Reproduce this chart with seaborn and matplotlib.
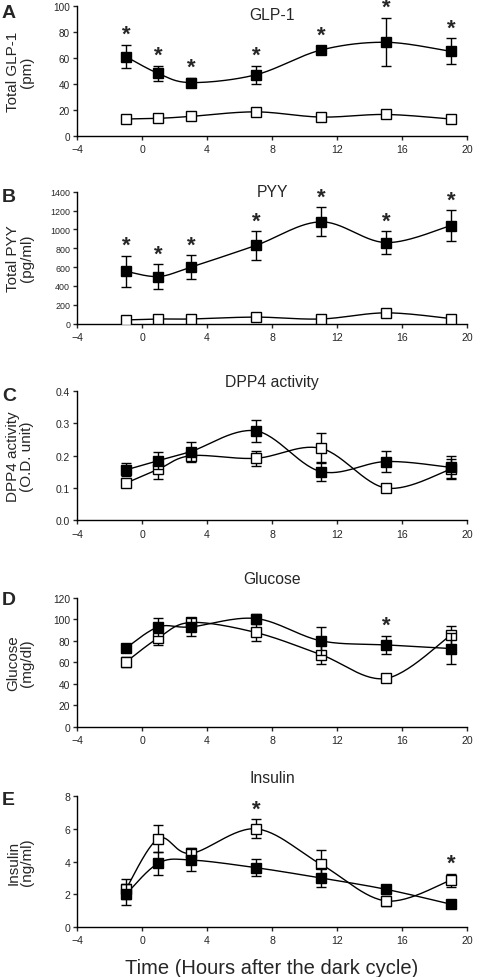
import numpy as np
import seaborn as sns
import matplotlib.pyplot as plt

# sampling times (hours after the start of the dark cycle)
hours = [-1, 1, 3, 7, 11, 15, 19]

# filled squares / open squares, mean and SEM
glp1_filled = [61, 48, 41, 47, 66, 72, 65]
glp1_filled_err = [9, 6, 3.5, 7, 3, 18.5, 10]
glp1_open = [13, 13.5, 15, 18.5, 14.5, 16.5, 13]
glp1_open_err = [1, 1, 1, 1, 1, 3, 1]
glp1_stars = [True, True, True, True, True, True, True]

pyy_filled = [555, 500, 600, 830, 1080, 860, 1040]
pyy_filled_err = [165, 130, 125, 150, 155, 120, 162]
pyy_open = [40, 50, 50, 70, 50, 115, 55]
pyy_open_err = [10, 10, 10, 10, 10, 15, 10]
pyy_stars = [True, True, True, True, True, True, True]

dpp4_filled = [0.156, 0.185, 0.213, 0.277, 0.151, 0.182, 0.164]
dpp4_filled_err = [0.02, 0.025, 0.031, 0.034, 0.03, 0.032, 0.034]
dpp4_open = [0.115, 0.158, 0.2, 0.192, 0.223, 0.1, 0.158]
dpp4_open_err = [0.01, 0.031, 0.01, 0.024, 0.046, 0.008, 0.031]
dpp4_stars = [False] * 7

glucose_filled = [73, 92.7, 92.7, 100.5, 79.8, 76, 72.6]
glucose_filled_err = [3, 8, 8, 4, 13, 8.5, 14]
glucose_open = [60, 82.5, 96.8, 87.5, 67, 44.8, 85]
glucose_open_err = [5, 7, 3, 8, 9, 2, 9]
glucose_stars = [False, False, False, False, False, True, False]

insulin_filled = [2.0, 3.9, 4.1, 3.63, 3.0, 2.31, 1.4]
insulin_filled_err = [0.65, 0.7, 0.65, 0.5, 0.58, 0.2, 0.15]
insulin_open = [2.31, 5.4, 4.5, 6.0, 3.84, 1.6, 2.86]
insulin_open_err = [0.6, 0.83, 0.35, 0.58, 0.87, 0.3, 0.4]
insulin_stars = [False, False, False, True, False, False, True]

panels = [
    ("A", "GLP-1", "Total GLP-1\n(pm)", glp1_filled, glp1_filled_err,
     glp1_open, glp1_open_err, glp1_stars, (0, 100), [0, 20, 40, 60, 80, 100], "%d"),
    ("B", "PYY", "Total PYY\n(pg/ml)", pyy_filled, pyy_filled_err,
     pyy_open, pyy_open_err, pyy_stars, (0, 1400), list(range(0, 1401, 200)), "%d"),
    ("C", "DPP4 activity", "DPP4 activity\n(O.D. unit)", dpp4_filled, dpp4_filled_err,
     dpp4_open, dpp4_open_err, dpp4_stars, (0, 0.4), [0, 0.1, 0.2, 0.3, 0.4], "%.1f"),
    ("D", "Glucose", "Glucose\n(mg/dl)", glucose_filled, glucose_filled_err,
     glucose_open, glucose_open_err, glucose_stars, (0, 120), list(range(0, 121, 20)), "%d"),
    ("E", "Insulin", "Insulin\n(ng/ml)", insulin_filled, insulin_filled_err,
     insulin_open, insulin_open_err, insulin_stars, (0, 8), [0, 2, 4, 6, 8], "%d"),
]

# axes boxes in figure fraction: bottom, height
boxes = [(0.860, 0.133), (0.668, 0.135), (0.467, 0.132), (0.256, 0.132), (0.051, 0.134)]
title_y = [0.93, 1.0, 1.078, 1.147, 1.145]
letter_y = [0.986, 0.798, 0.595, 0.386, 0.181]
tick_size = [7.2, 6.4, 7.4, 7.4, 7.6]


def smooth(xs, ys, n=30):
    # Excel-like smoothed line (Catmull-Rom through the points)
    xs = np.asarray(xs, float)
    ys = np.asarray(ys, float)
    px = np.concatenate([[xs[0]], xs, [xs[-1]]])
    py = np.concatenate([[ys[0]], ys, [ys[-1]]])
    outx, outy = [], []
    t = np.linspace(0, 1, n)
    for i in range(1, len(px) - 2):
        for p, out in ((px, outx), (py, outy)):
            p0, p1, p2, p3 = p[i - 1], p[i], p[i + 1], p[i + 2]
            c1 = p1 + (p2 - p0) / 6
            c2 = p2 - (p3 - p1) / 6
            b = ((1 - t) ** 3 * p1 + 3 * (1 - t) ** 2 * t * c1
                 + 3 * (1 - t) * t ** 2 * c2 + t ** 3 * p2)
            out.extend(b)
    return np.array(outx), np.array(outy)


sns.set_style("ticks")
plt.rcParams["font.family"] = ["Liberation Sans", "DejaVu Sans"]

fig = plt.figure(figsize=(4.82, 9.78), dpi=100)

for k, (letter, title, ylab, fv, fe, ov, oe, stars, ylim, yt, fmt) in enumerate(panels):
    bottom, height = boxes[k]
    ax = fig.add_axes([0.160, bottom, 0.809, height])

    for vals in (ov, fv):
        sx, sy = smooth(hours, vals)
        sns.lineplot(x=sx, y=sy, ax=ax, color="black", lw=1.0,
                     sort=False, estimator=None, zorder=2)

    ax.errorbar(hours, ov, yerr=oe, fmt="s", color="black", mfc="white",
                mec="black", mew=1.0, ms=7, capsize=3.5, elinewidth=1, zorder=3)
    ax.errorbar(hours, fv, yerr=fe, fmt="s", color="black", mfc="black",
                mec="black", ms=7, capsize=3.5, elinewidth=1, zorder=4)

    for h, f, fe_, o, oe_, s in zip(hours, fv, fe, ov, oe, stars):
        if s:
            top = max(f + fe_, o + oe_)
            ax.annotate("*", xy=(h, top), xytext=(0, 0), textcoords="offset points",
                        ha="center", va="bottom", fontsize=16, fontweight="bold",
                        annotation_clip=False)

    ax.set_xlim(-4, 20)
    ax.set_xticks(range(-4, 21, 4))
    ax.set_ylim(*ylim)
    ax.set_yticks(yt)
    ax.set_yticklabels([fmt % v for v in yt])
    ax.tick_params(axis="y", labelsize=tick_size[k], direction="out", length=3, width=1, pad=2)
    ax.tick_params(axis="x", labelsize=7.6, direction="out", length=3, width=1, pad=3)
    sns.despine(ax=ax)
    for sp in ax.spines.values():
        sp.set_linewidth(1.0)
        sp.set_color("black")

    ax.set_ylabel(ylab, fontsize=11, linespacing=1.0)
    ax.yaxis.set_label_coords(-0.11, 0.5)
    ax.text(0.5, title_y[k], title, transform=ax.transAxes, ha="center",
            va="center", fontsize=11.3)
    fig.text(0.004, letter_y[k], letter, fontsize=14, fontweight="bold",
             va="center", ha="left")

    if k == 4:
        ax.set_xlabel("Time (Hours after the dark cycle)", fontsize=14.5, labelpad=9)

fig.savefig("out.png", dpi=100)
